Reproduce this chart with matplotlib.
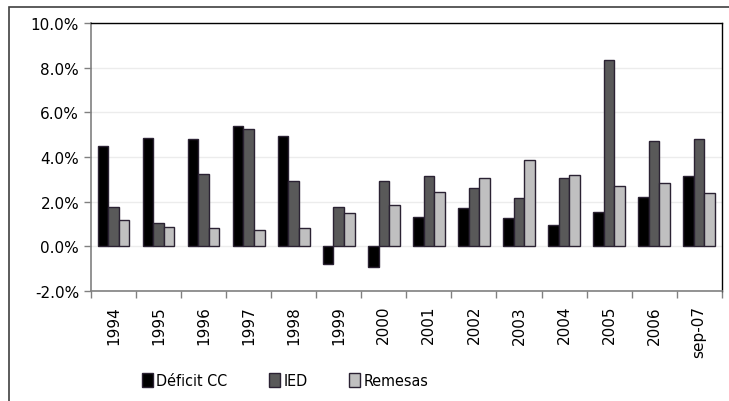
import matplotlib
matplotlib.use("Agg")
import matplotlib.pyplot as plt
import numpy as np
from matplotlib.patches import Rectangle
from matplotlib.ticker import FuncFormatter
from matplotlib.font_manager import FontProperties

# values (% of GDP)
years = ['1994', '1995', '1996', '1997', '1998', '1999', '2000', '2001',
         '2002', '2003', '2004', '2005', '2006', 'sep-07']
deficit_cc = [4.49, 4.87, 4.79, 5.39, 4.94, -0.78, -0.93, 1.33, 1.70, 1.25, 0.95, 1.55, 2.23, 3.13]
ied = [1.78, 1.03, 3.22, 5.25, 2.91, 1.78, 2.91, 3.13, 2.61, 2.15, 3.06, 8.33, 4.72, 4.79]
remesas = [1.18, 0.86, 0.81, 0.73, 0.81, 1.48, 1.85, 2.45, 3.06, 3.88, 3.21, 2.69, 2.84, 2.39]

fig = plt.figure(figsize=(7.29, 4.02), dpi=100)
ax = fig.add_axes([0.1248, 0.2736, 0.8652, 0.6667])

x = np.arange(len(years))
w = 0.235
edge = '#2b2233'
ax.bar(x - w, deficit_cc, w, color='#000000', edgecolor=edge, linewidth=1, label='Déficit CC', zorder=3)
ax.bar(x, ied, w, color='#595959', edgecolor=edge, linewidth=1, label='IED', zorder=3)
ax.bar(x + w, remesas, w, color='#c0c0c0', edgecolor=edge, linewidth=1, label='Remesas', zorder=3)

ax.set_xlim(-0.5, len(years) - 0.5)
ax.set_ylim(-2, 10)
ax.set_yticks(np.arange(-2, 10.1, 2))
ax.yaxis.set_major_formatter(FuncFormatter(lambda v, p: f'{v:.1f}%'))
ax.grid(axis='y', color='#ececec', linewidth=1, zorder=0)

# category labels at centers, tick marks at boundaries
ax.set_xticks(x)
ax.set_xticklabels(years, rotation=90, fontsize=11)
ax.tick_params(axis='x', which='major', length=0, pad=10)
ax.set_xticks(np.arange(-0.5, len(years), 1), minor=True)
ax.tick_params(axis='x', which='minor', length=5, color='#808080', width=1, direction='out')
ax.tick_params(axis='y', labelsize=11, length=5, color='#808080', width=1, direction='out')

for s in ['top', 'right']:
    ax.spines[s].set_color('#000000')
    ax.spines[s].set_linewidth(1)
for s in ['left', 'bottom']:
    ax.spines[s].set_color('#808080')
    ax.spines[s].set_linewidth(1.2)

leg_font = FontProperties(family='DejaVu Sans', stretch='condensed', size=11.5)
fig.legend(loc='center left', bbox_to_anchor=(142 / 729, 0.05), ncol=3, frameon=False,
           prop=leg_font, handlelength=0.7, handleheight=0.9, handletextpad=0.2,
           columnspacing=2.6, borderaxespad=0, borderpad=0)

# outer chart border
fig.patches.append(Rectangle((9 / 729, -0.05), 1.0, 1 - 8 / 402 + 0.05, transform=fig.transFigure,
                             fill=False, edgecolor='#404040', linewidth=1.2))

fig.savefig('out.png', dpi=100)
